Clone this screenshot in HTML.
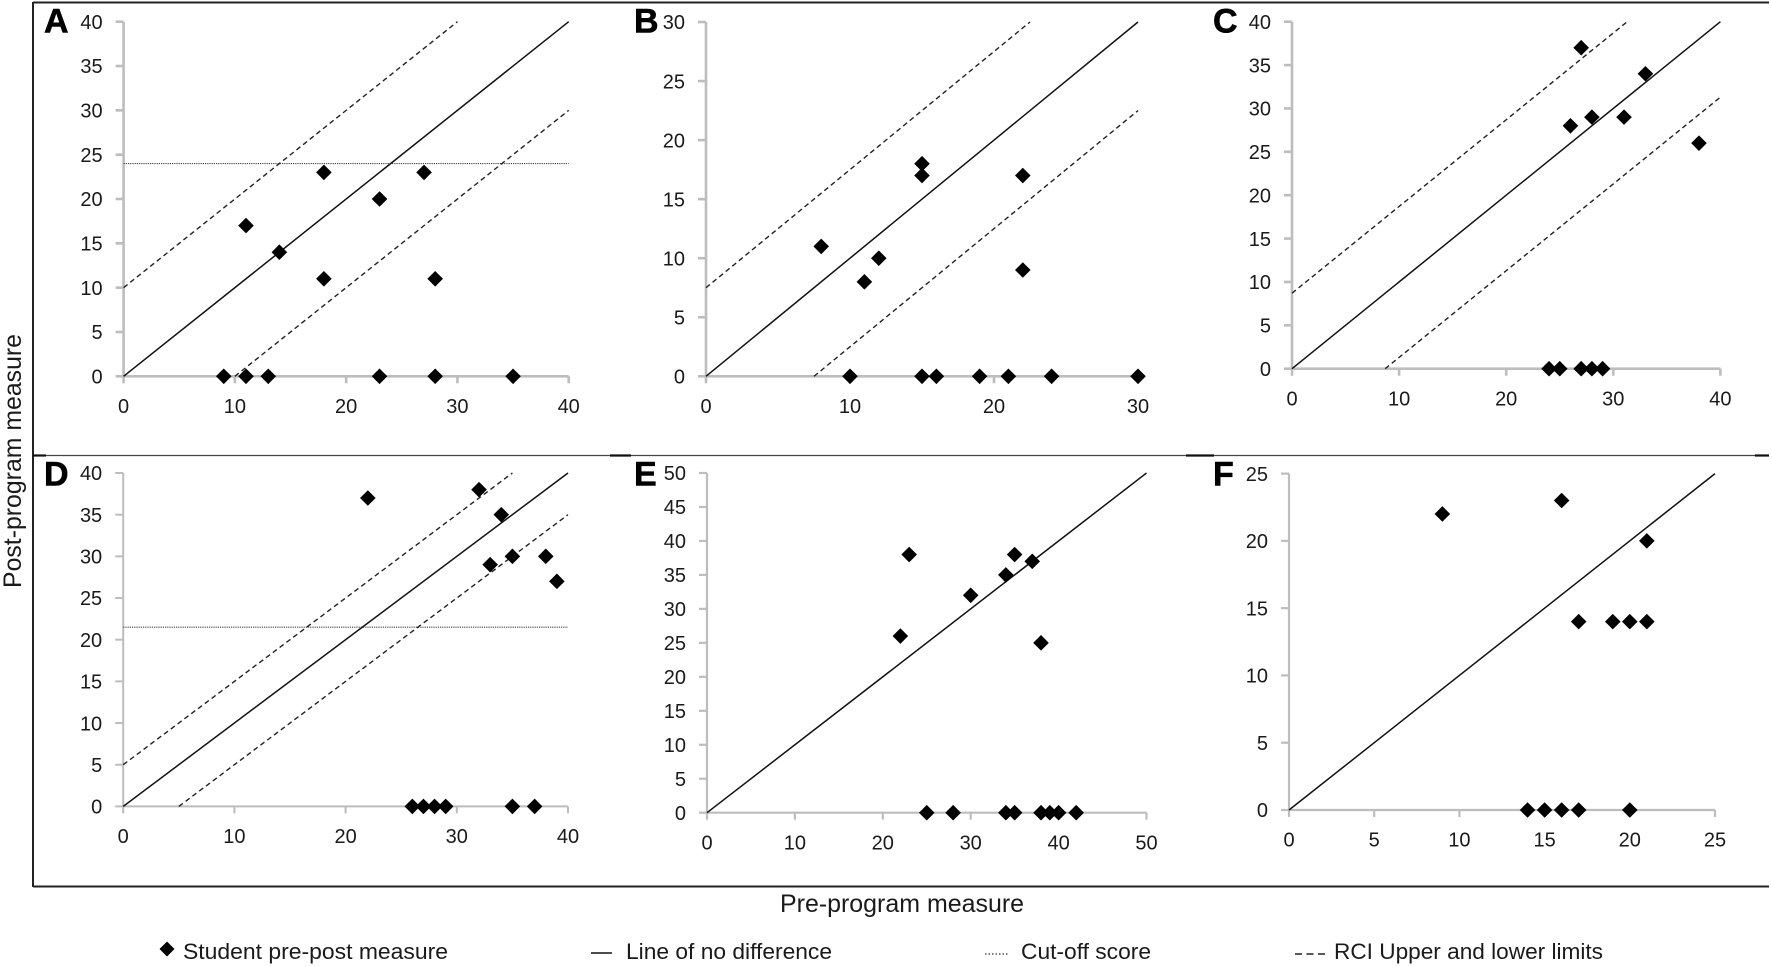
<!DOCTYPE html>
<html lang="en">
<head>
<meta charset="utf-8">
<title>Pre-program and post-program measures, panels A to F</title>
<style>
html,body{margin:0;padding:0;background:#fff;width:1772px;height:967px;overflow:hidden}
svg{display:block}
text{font-family:"Liberation Sans",Arial,sans-serif;fill:#1a1a1a}
.tick{font-size:20px}
.title{font-size:25px}
.legend{font-size:22.5px}
.letter{font-size:34px;font-weight:700;fill:#000;stroke:#000;stroke-width:.6px}
</style>
</head>
<body>
<svg id="figure" xmlns="http://www.w3.org/2000/svg" width="1772" height="967" viewBox="0 0 1772 967">
  <rect x="0" y="0" width="1772" height="967" fill="#fff"/>
  <g id="frame" stroke="#222" fill="none">
    <line x1="33" y1="2.5" x2="1769" y2="2.5" stroke-width="2"/>
    <line x1="33" y1="2" x2="33" y2="887" stroke-width="2"/>
    <line x1="33" y1="455.5" x2="1769" y2="455.5" stroke-width="1.3" stroke="#444"/>
    <line x1="33" y1="886.5" x2="1769" y2="886.5" stroke-width="2"/>
    <line x1="33" y1="455.5" x2="46" y2="455.5" stroke-width="2.2" stroke="#111"/>
    <line x1="610" y1="455.5" x2="631" y2="455.5" stroke-width="2.2" stroke="#111"/>
    <line x1="1186" y1="455.5" x2="1214" y2="455.5" stroke-width="2.2" stroke="#111"/>
    <line x1="1755" y1="455.5" x2="1769" y2="455.5" stroke-width="2.2" stroke="#111"/>
  </g>
  <g id="panels"></g>
  <text class="title" transform="translate(21,588) rotate(-90)" textLength="254" lengthAdjust="spacingAndGlyphs">Post-program measure</text>
  <text class="title" x="780" y="912" textLength="244" lengthAdjust="spacingAndGlyphs">Pre-program measure</text>
  <g id="legend">
    <g>
      <path d="M167 941.5L174.5 949L167 956.5L159.5 949Z" fill="#000"/>
      <text class="legend" x="183" y="959" textLength="265" lengthAdjust="spacingAndGlyphs">Student pre-post measure</text>
    </g>
    <g>
      <line x1="591" y1="953" x2="612" y2="953" stroke="#111" stroke-width="1.6"/>
      <text class="legend" x="626" y="959" textLength="206" lengthAdjust="spacingAndGlyphs">Line of no difference</text>
    </g>
    <g>
      <line x1="985" y1="954" x2="1009" y2="954" stroke="#333" stroke-width="1.3" stroke-dasharray="1.5 2"/>
      <text class="legend" x="1021" y="959" textLength="130" lengthAdjust="spacingAndGlyphs">Cut-off score</text>
    </g>
    <g>
      <line x1="1295" y1="954" x2="1325" y2="954" stroke="#222" stroke-width="1.6" stroke-dasharray="7 4.5"/>
      <text class="legend" x="1334" y="959" textLength="269" lengthAdjust="spacingAndGlyphs">RCI Upper and lower limits</text>
    </g>
  </g>
</svg>
<script>
// Panel A
const aXTicks = [0, 10, 20, 30, 40];
const aYTicks = [0, 5, 10, 15, 20, 25, 30, 35, 40];
const aPre = [9, 11, 13, 23, 28, 35, 11, 14, 18, 18, 23, 27, 28];
const aPost = [0, 0, 0, 0, 0, 0, 17, 14, 23, 11, 20, 23, 11];
const aRci = [10];
const aCutoff = [24];
// Panel B
const bXTicks = [0, 10, 20, 30];
const bYTicks = [0, 5, 10, 15, 20, 25, 30];
const bPre = [10, 15, 16, 19, 21, 24, 30, 8, 11, 12, 15, 15, 22, 22];
const bPost = [0, 0, 0, 0, 0, 0, 0, 11, 8, 10, 18, 17, 17, 9];
const bRci = [7.5];
const bCutoff = [];
// Panel C
const cXTicks = [0, 10, 20, 30, 40];
const cYTicks = [0, 5, 10, 15, 20, 25, 30, 35, 40];
const cPre = [24, 25, 27, 28, 29, 27, 33, 26, 28, 31, 38];
const cPost = [0, 0, 0, 0, 0, 37, 34, 28, 29, 29, 26];
const cRci = [8.7];
const cCutoff = [];
// Panel D
const dXTicks = [0, 10, 20, 30, 40];
const dYTicks = [0, 5, 10, 15, 20, 25, 30, 35, 40];
const dPre = [22, 32, 34, 33, 35, 38, 39, 26, 27, 28, 29, 35, 37];
const dPost = [37, 38, 35, 29, 30, 30, 27, 0, 0, 0, 0, 0, 0];
const dRci = [5];
const dCutoff = [21.5];
// Panel E
const eXTicks = [0, 10, 20, 30, 40, 50];
const eYTicks = [0, 5, 10, 15, 20, 25, 30, 35, 40, 45, 50];
const ePre = [22, 23, 30, 34, 35, 37, 38, 25, 28, 34, 35, 38, 39, 40, 42];
const ePost = [26, 38, 32, 35, 38, 37, 25, 0, 0, 0, 0, 0, 0, 0, 0];
const eRci = [];
const eCutoff = [];
// Panel F
const fXTicks = [0, 5, 10, 15, 20, 25];
const fYTicks = [0, 5, 10, 15, 20, 25];
const fPre = [9, 16, 21, 17, 19, 20, 21, 14, 15, 16, 17, 20];
const fPost = [22, 23, 20, 14, 14, 14, 14, 0, 0, 0, 0, 0];
const fRci = [];
const fCutoff = [];

const NS = 'http://www.w3.org/2000/svg';
const panelsRoot = document.getElementById('panels');

function svgEl(tag, attrs, parent) {
  const el = document.createElementNS(NS, tag);
  for (const k in attrs) el.setAttribute(k, attrs[k]);
  parent.appendChild(el);
  return el;
}

function last(a) { return a[a.length - 1]; }

function drawPanel(p) {
  const xMax = last(p.xTicks);
  const yMax = last(p.yTicks);
  const sx = v => p.left + (v / xMax) * (p.right - p.left);
  const sy = v => p.bottom - (v / yMax) * (p.bottom - p.top);
  const id = p.letter.toLowerCase();

  const g = svgEl('g', {}, panelsRoot);
  
  

  const letter = svgEl('text', { class: 'letter', x: p.letterX, y: p.letterY }, g);
  letter.textContent = p.letter;
  
  

  const axisStyle = { stroke: '#bdbdbd', 'stroke-width': p.axisWidth };

  const yAxis = svgEl('line', Object.assign({ x1: sx(0), y1: sy(0), x2: sx(0), y2: sy(yMax) }, axisStyle), g);
  
  

  const xAxis = svgEl('line', Object.assign({ x1: sx(0), y1: sy(0), x2: sx(xMax), y2: sy(0) }, axisStyle), g);
  
  

  p.yTicks.forEach(v => {
    const t = svgEl('line', Object.assign({ x1: sx(0) - 8, y1: sy(v), x2: sx(0), y2: sy(v) }, axisStyle), g);
    
    
    const l = svgEl('text', { class: 'tick', x: sx(0) - 21, y: sy(v) + 7.2, 'text-anchor': 'end' }, g);
    l.textContent = v;
    
    
  });

  p.xTicks.forEach(v => {
    const t = svgEl('line', Object.assign({ x1: sx(v), y1: sy(0), x2: sx(v), y2: sy(0) + 7 }, axisStyle), g);
    
    
    const l = svgEl('text', { class: 'tick', x: sx(v), y: sy(0) + 36.6, 'text-anchor': 'middle' }, g);
    l.textContent = v;
    
    
  });

  p.cutoff.forEach(c => {
    const cut = svgEl('line', { x1: sx(0), y1: sy(c), x2: sx(xMax), y2: sy(c), stroke: '#444', 'stroke-width': 1.2, 'stroke-dasharray': '1.2 1' }, g);
    
    
  });

  p.rci.forEach(r => {
    const dashStyle = { stroke: '#222', 'stroke-width': 1.4, 'stroke-dasharray': '5 3.5', fill: 'none' };
    const up = svgEl('line', Object.assign({ x1: sx(0), y1: sy(r), x2: sx(yMax - r), y2: sy(yMax) }, dashStyle), g);
    
    
    const lo = svgEl('line', Object.assign({ x1: sx(r), y1: sy(0), x2: sx(xMax), y2: sy(xMax - r) }, dashStyle), g);
    
    
  });

  const diag = svgEl('line', { x1: sx(0), y1: sy(0), x2: sx(xMax), y2: sy(yMax), stroke: '#111', 'stroke-width': 1.5 }, g);
  
  

  p.pre.forEach((v, i) => {
    const cx = sx(v);
    const cy = sy(p.post[i]);
    const r = 7.8;
    const m = svgEl('path', { d: 'M' + cx + ' ' + (cy - r) + 'L' + (cx + r) + ' ' + cy + 'L' + cx + ' ' + (cy + r) + 'L' + (cx - r) + ' ' + cy + 'Z', fill: '#000' }, g);
    
    
  });
}

drawPanel({ letter: 'A', xTicks: aXTicks, yTicks: aYTicks, pre: aPre, post: aPost, rci: aRci, cutoff: aCutoff,
  left: 123.6, right: 568.7, top: 21.7, bottom: 376.3, axisWidth: 2.6, letterX: 44, letterY: 32.5 });
drawPanel({ letter: 'B', xTicks: bXTicks, yTicks: bYTicks, pre: bPre, post: bPost, rci: bRci, cutoff: bCutoff,
  left: 706, right: 1138, top: 22, bottom: 376.3, axisWidth: 2.6, letterX: 634, letterY: 32.5 });
drawPanel({ letter: 'C', xTicks: cXTicks, yTicks: cYTicks, pre: cPre, post: cPost, rci: cRci, cutoff: cCutoff,
  left: 1292, right: 1720.4, top: 21.7, bottom: 368.7, axisWidth: 2.6, letterX: 1213, letterY: 32.5 });
drawPanel({ letter: 'D', xTicks: dXTicks, yTicks: dYTicks, pre: dPre, post: dPost, rci: dRci, cutoff: dCutoff,
  left: 123.2, right: 568, top: 473, bottom: 806.4, axisWidth: 2, letterX: 44, letterY: 485.5 });
drawPanel({ letter: 'E', xTicks: eXTicks, yTicks: eYTicks, pre: ePre, post: ePost, rci: eRci, cutoff: eCutoff,
  left: 707, right: 1146.5, top: 473, bottom: 812.7, axisWidth: 2.2, letterX: 634, letterY: 485.5 });
drawPanel({ letter: 'F', xTicks: fXTicks, yTicks: fYTicks, pre: fPre, post: fPost, rci: fRci, cutoff: fCutoff,
  left: 1289, right: 1715, top: 473.6, bottom: 810, axisWidth: 2.2, letterX: 1213, letterY: 485.5 });
</script>
</body>
</html>
